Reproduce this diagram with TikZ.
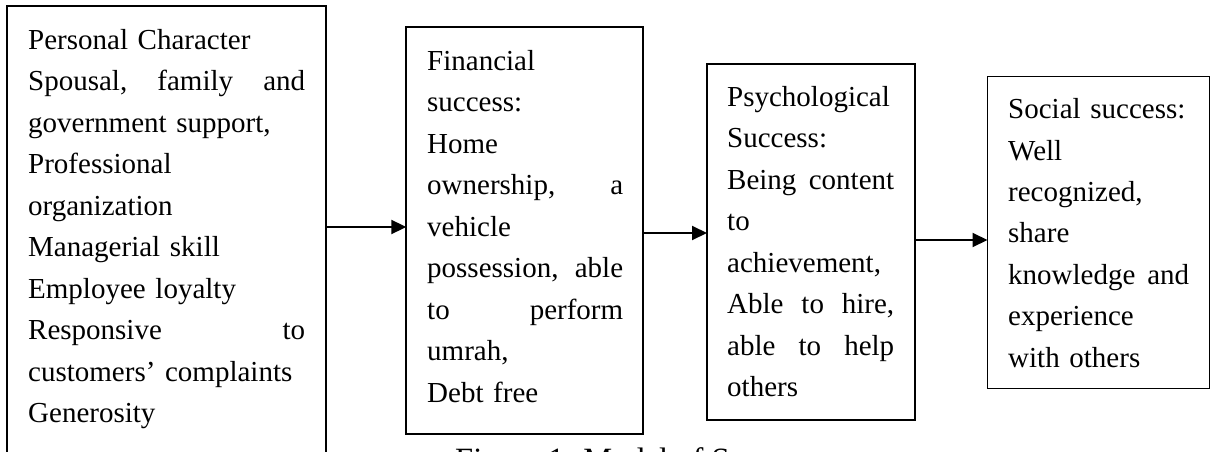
\documentclass[tikz,border=0pt]{standalone}
\usepackage{fontspec}
\setmainfont{Liberation Serif}
\usetikzlibrary{arrows.meta}
\tikzset{
  boxframe/.style={draw=black, line width=1.7pt, anchor=north west, inner sep=0pt, outer sep=0pt},
  boxtext/.style={anchor=north west, inner sep=0pt, align=left,
    font=\fontsize{29}{41.5}\selectfont},
  flowarrow/.style={line width=2pt, -{Triangle[length=15pt,width=14pt]}},
  captext/.style={anchor=base west, inner sep=0pt, font=\fontsize{32.5}{38}\selectfont}
}
\begin{document}
\begin{tikzpicture}[x=1pt,y=-1pt]
\path[use as bounding box, clip] (0,0) rectangle (1211,452);
\fill[white] (0,0) rectangle (1211,452);
% boxes
\node[boxframe, minimum width=318.5pt, minimum height=480pt] (b1) at (7.3,6) {};
\node[boxframe, minimum width=237pt, minimum height=407pt] (b2) at (406.3,27) {};
\node[boxframe, minimum width=208pt, minimum height=356pt] (b3) at (707,64) {};
\node[boxframe, minimum width=222pt, minimum height=312pt] (b4) at (987.5,76.5) {};
% texts
\node[boxtext, text width=277pt] (t1) at (28,20.25) {\strut Personal Character\\
Spousal,\hfill family\hfill and\\
government support,\\
Professional\\
organization\\
Managerial skill\\
Employee loyalty\\
Responsive\hfill to\\
customers’ complaints\\
Generosity};
\node[boxtext, text width=196pt] (t2) at (427,40.95) {\strut Financial\\
success:\\
Home\\
ownership,\hfill a\\
vehicle\\
possession,\hfill able\\
to\hfill perform\\
umrah,\\
Debt free};
\node[boxtext, text width=167pt] (t3) at (727,76.95) {\strut Psychological\\
Success:\\
Being\hfill content\\
to\\
achievement,\\
Able\hfill to\hfill hire,\\
able\hfill to\hfill help\\
others};
\node[boxtext, text width=181pt] (t4) at (1008,89.25) {\strut Social success:\\
Well\\
recognized,\\
share\\
knowledge\hfill and\\
experience\\
with others};
% arrows
\draw[flowarrow] (b1.east |- 0,227) -- (b2.west |- 0,227);
\draw[flowarrow] (b2.east |- 0,233) -- (b3.west |- 0,233);
\draw[flowarrow] (b3.east |- 0,240) -- (b4.west |- 0,240);
% caption (cut off at the bottom)
\node[captext] (cap) at (455,470.5) {Figure 1. Model of Success};
\end{tikzpicture}
\end{document}
